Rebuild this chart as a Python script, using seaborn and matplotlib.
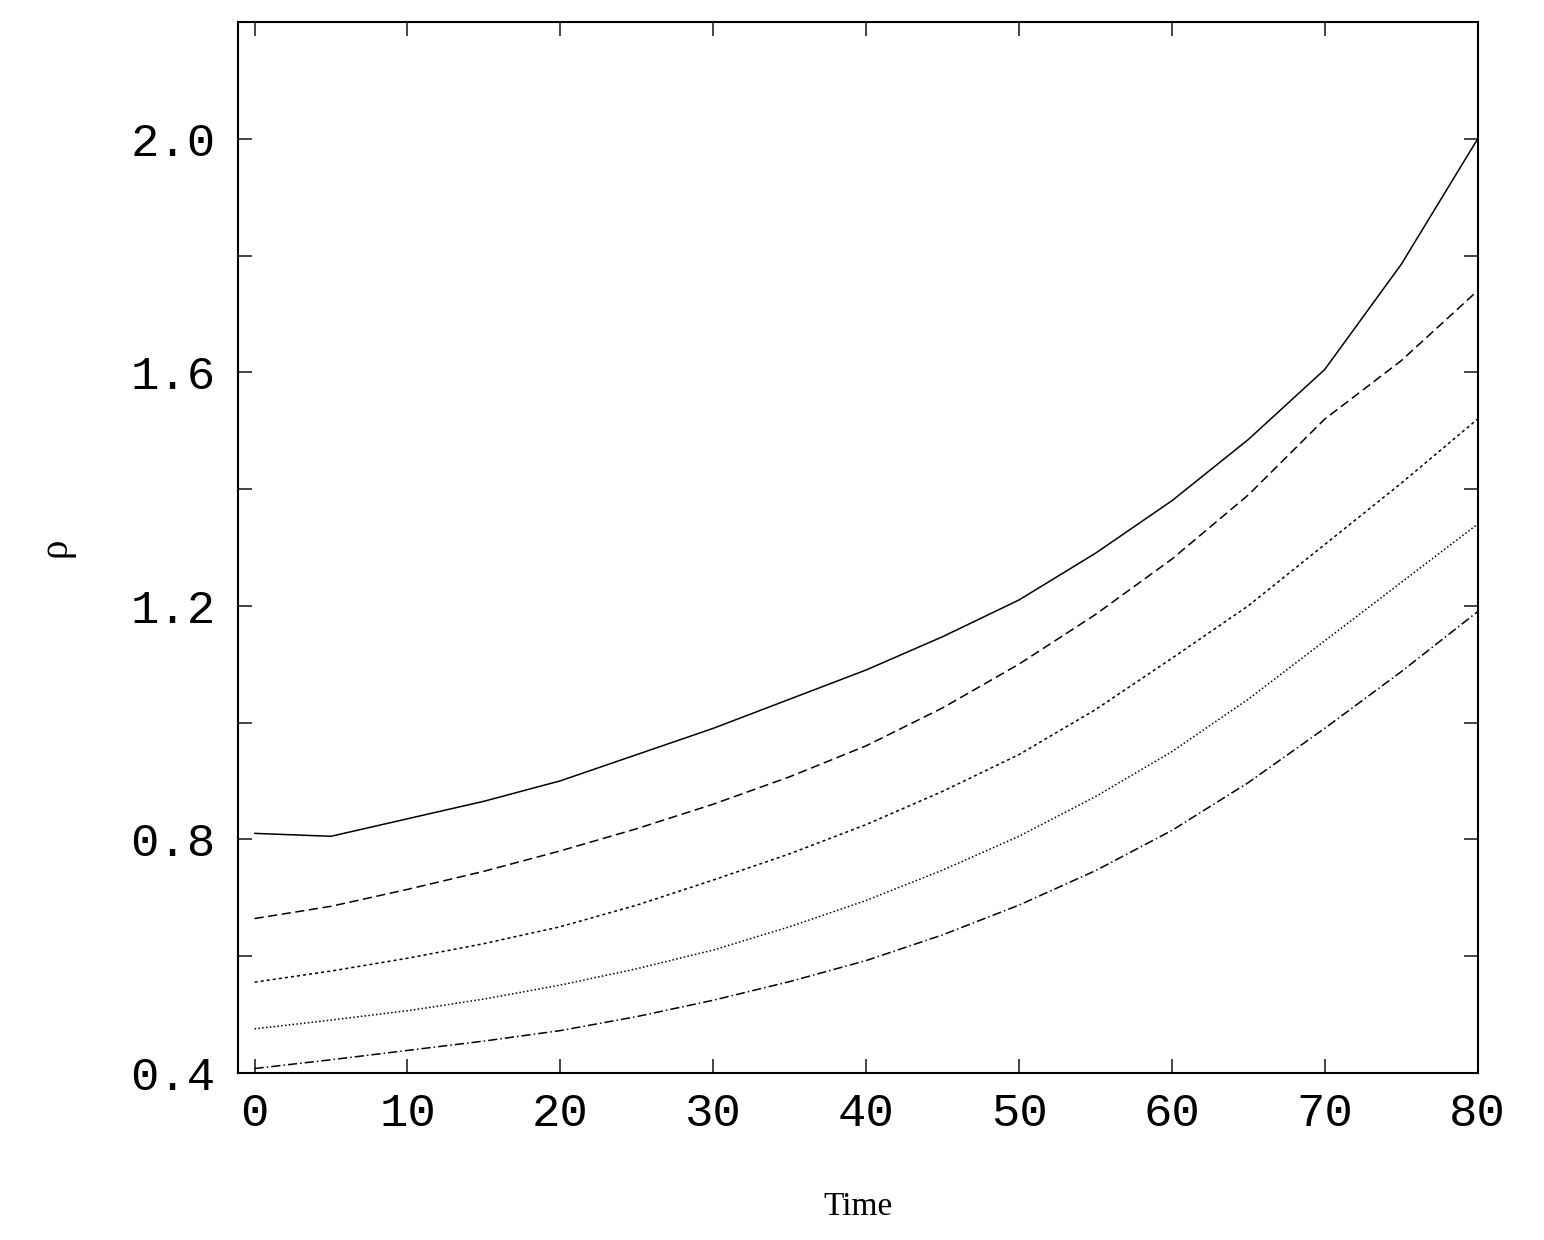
import seaborn as sns
import matplotlib.pyplot as plt
import matplotlib.ticker as ticker
import pandas as pd

time = [0, 5, 10, 15, 20, 25, 30, 35, 40, 45, 50, 55, 60, 65, 70, 75, 80]
rho_1 = [0.81, 0.805, 0.835, 0.865, 0.90, 0.945, 0.99, 1.04, 1.09, 1.147, 1.21, 1.29, 1.38, 1.485, 1.605, 1.785, 2.0]
rho_2 = [0.664, 0.685, 0.714, 0.745, 0.78, 0.818, 0.86, 0.907, 0.96, 1.025, 1.10, 1.185, 1.28, 1.39, 1.52, 1.62, 1.74]
rho_3 = [0.555, 0.574, 0.596, 0.621, 0.65, 0.687, 0.73, 0.775, 0.825, 0.882, 0.945, 1.022, 1.11, 1.20, 1.305, 1.41, 1.52]
rho_4 = [0.475, 0.49, 0.506, 0.526, 0.55, 0.578, 0.61, 0.65, 0.695, 0.747, 0.805, 0.873, 0.95, 1.04, 1.14, 1.24, 1.34]
rho_5 = [0.407, 0.422, 0.438, 0.454, 0.472, 0.496, 0.524, 0.556, 0.592, 0.636, 0.687, 0.746, 0.815, 0.897, 0.99, 1.087, 1.19]
series = ["s1", "s2", "s3", "s4", "s5"]

rows = []
for name, vals in zip(series, [rho_1, rho_2, rho_3, rho_4, rho_5]):
    for t, v in zip(time, vals):
        rows.append({"time": t, "rho": v, "series": name})
df = pd.DataFrame(rows)

sns.set_theme(style="ticks")
f, ax = plt.subplots(figsize=(15.44, 12.4), dpi=100)
styles = {"s1": "", "s2": (6, 3), "s3": (2, 2), "s4": (1, 1.5), "s5": (6, 2, 1, 2)}
sns.lineplot(data=df, x="time", y="rho", hue="series", style="series",
             dashes=styles, palette=["black"] * 5, linewidth=1.1, legend=False, ax=ax)

ax.set_xlim(-1.1, 80)
ax.set_ylim(0.4, 2.2)
ax.xaxis.set_major_locator(ticker.MultipleLocator(10))
ax.yaxis.set_major_locator(ticker.MultipleLocator(0.4))
ax.yaxis.set_minor_locator(ticker.MultipleLocator(0.2))
ax.yaxis.set_major_formatter(ticker.FormatStrFormatter("%.1f"))
ax.tick_params(which="both", direction="in", top=True, right=True, length=10, width=1.2)
for lab in ax.get_xticklabels() + ax.get_yticklabels():
    lab.set_family("Liberation Mono")
    lab.set_fontsize(34)
    lab.set_color("black")
ax.tick_params(axis="x", pad=14)
ax.tick_params(axis="y", pad=16)
for s in ax.spines.values():
    s.set_linewidth(1.5)
    s.set_color("black")
ax.set_xlabel("Time", family="Liberation Serif", fontsize=24, labelpad=40, color="black")
ax.set_ylabel("ρ", family="Liberation Serif", fontsize=28, labelpad=40, color="black")

plt.subplots_adjust(left=0.154, right=0.957, top=0.982, bottom=0.135)
plt.savefig("out.png")
plt.close(f)
